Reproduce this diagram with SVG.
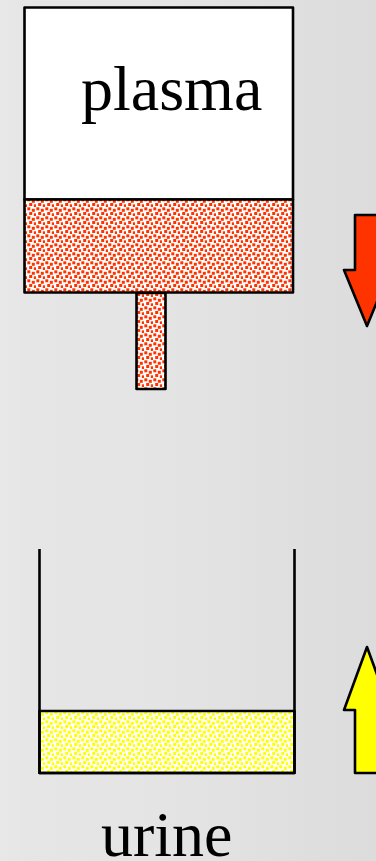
<svg xmlns="http://www.w3.org/2000/svg" width="376" height="861" viewBox="0 0 376 861">
  <defs>
    <linearGradient id="bg" x1="0" y1="0" x2="1" y2="0">
      <stop offset="0" stop-color="#e8e8e8"/>
      <stop offset="0.06" stop-color="#e6e6e6"/>
      <stop offset="0.45" stop-color="#e4e4e4"/>
      <stop offset="1" stop-color="#dcdcdc"/>
    </linearGradient>
    <pattern id="redDots" width="9" height="9" patternUnits="userSpaceOnUse">
      <rect width="9" height="9" fill="#ffffff"/>
      <g fill="#ff3300">
        <rect x="0.3" y="0.3" width="3" height="3"/>
        <rect x="4.8" y="1.8" width="3" height="3"/>
        <rect x="2.2" y="5" width="3" height="3"/>
        <rect x="6.8" y="6.3" width="3" height="3"/>
      </g>
    </pattern>
    <pattern id="yellowDots" width="9" height="9" patternUnits="userSpaceOnUse">
      <rect width="9" height="9" fill="#ffffff"/>
      <g fill="#ffff00">
        <rect x="0.3" y="0.3" width="3" height="3"/>
        <rect x="4.8" y="1.8" width="3" height="3"/>
        <rect x="2.2" y="5" width="3" height="3"/>
        <rect x="6.8" y="6.3" width="3" height="3"/>
      </g>
    </pattern>
    <style>
      .ln { stroke: #000000; stroke-width: 2.6; stroke-linejoin: round; }
      .lbl { font-family: "Liberation Serif", "Times New Roman", serif; font-size: 64px; fill: #000000; }
    </style>
  </defs>
  <rect width="376" height="861" fill="url(#bg)"/>

  <g id="plasma-box">
    <rect x="24.5" y="7.5" width="268.5" height="192" fill="#ffffff" class="ln"/>
    <rect x="24.5" y="199.5" width="268.5" height="93" fill="url(#redDots)" class="ln"/>
    <text class="lbl" x="81" y="110">plasma</text>
  </g>

  <g id="tube">
    <rect x="136.5" y="293" width="29" height="96" fill="url(#redDots)" class="ln"/>
  </g>

  <g id="urine-container">
    <rect x="39.5" y="711" width="255" height="62" fill="url(#yellowDots)" class="ln"/>
    <path d="M39.5 549 V773 H294.5 V549" fill="none" class="ln"/>
    <text class="lbl" x="101" y="856">urine</text>
  </g>

  <g id="arrows">
    <path d="M355 215 H379 V270 H390 L367 326 L344 270 H355 Z" fill="#ff3300" class="ln"/>
    <path d="M367 647 L390 710 H379 V773 H355 V710 H344 Z" fill="#ffff00" class="ln"/>
  </g>
</svg>
